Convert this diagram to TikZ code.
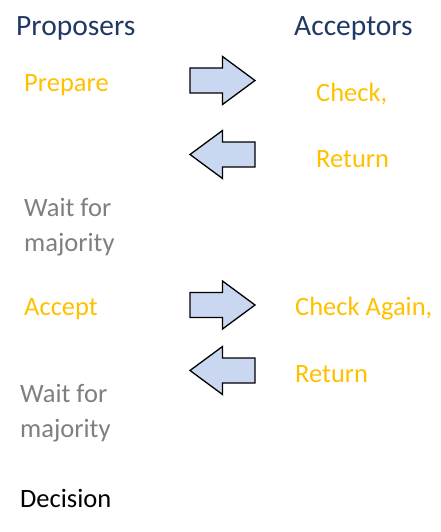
\documentclass[tikz,border=0pt]{standalone}
\usepackage{fontspec}
\setmainfont{Carlito}
\usepackage{tikz}

\definecolor{headblue}{HTML}{1F3864}
\definecolor{stepgold}{HTML}{FFC000}
\definecolor{waitgray}{HTML}{7F7F7F}
\definecolor{arrowfill}{HTML}{C9D7F0}

\begin{document}
\begin{tikzpicture}[x=1pt,y=-1pt,
  head/.style={anchor=base west, inner sep=0pt, text=headblue, font=\fontsize{29.5}{35}\selectfont},
  phase/.style={anchor=base west, inner sep=0pt, text=stepgold, font=\fontsize{26.5}{35}\selectfont},
  wait/.style={phase, text=waitgray, align=left},
  blockarrow/.style={draw=black, fill=arrowfill, line width=1.3pt, line join=miter}]

  % Fix the page to the size of the picture
  \useasboundingbox (0,0) rectangle (441,532);

  % Half length, shaft half width and head half width of the block arrows
  \def\hl{32.5}
  \def\sw{12.5}
  \def\hw{24}

  % Column titles
  \node[head] (prop) at (16,36) {Proposers};
  \node[head] (acc) at (294,36) {Acceptors};

  % Proposer side (two-line nodes sit on the baseline of their last line)
  \node[phase] (prep) at (24,92) {Prepare};
  \node[wait] (wait1) at (24,251) {Wait for\\majority};
  \node[phase] (acpt) at (24,315) {Accept};
  \node[wait] (wait2) at (20,437) {Wait for\\majority};
  \node[phase, text=black] (dec) at (20,507) {Decision};

  % Acceptor side
  \node[phase] (check) at (316,102) {Check,};
  \node[phase] (ret1) at (316,167) {Return};
  \node[phase] (again) at (295,315) {Check Again,};
  \node[phase] (ret2) at (295,382) {Return};

  % Messages to the acceptors
  \foreach \y in {80.5,305} {
    \draw[blockarrow, shift={(222.5,\y)}] (-\hl,-\sw) -- (0,-\sw) -- (0,-\hw)
      -- (\hl,0) -- (0,\hw) -- (0,\sw) -- (-\hl,\sw) -- cycle;
  }

  % Replies to the proposers
  \foreach \y in {154.5,370.5} {
    \draw[blockarrow, shift={(222.5,\y)}] (\hl,-\sw) -- (0,-\sw) -- (0,-\hw)
      -- (-\hl,0) -- (0,\hw) -- (0,\sw) -- (\hl,\sw) -- cycle;
  }

\end{tikzpicture}
\end{document}
